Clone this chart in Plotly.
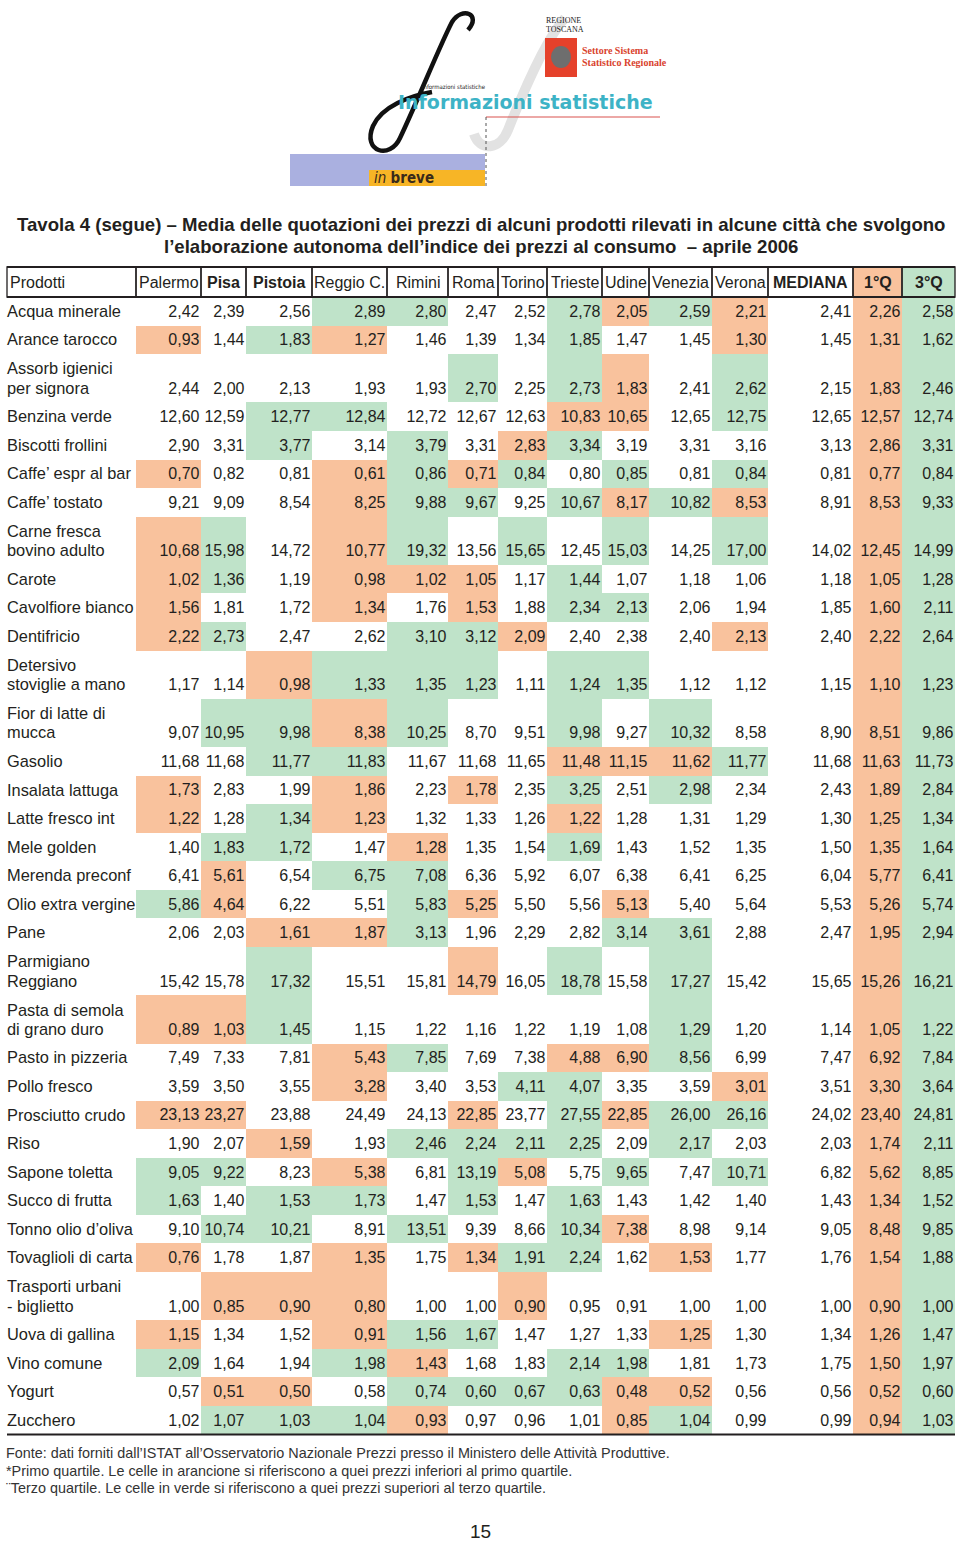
import plotly.graph_objects as go

# ---- data -------------------------------------------------------------
products = [
    "Acqua minerale", "Arance tarocco", "Assorb igienici\nper signora",
    "Benzina verde", "Biscotti frollini", "Caffe’ espr al bar", "Caffe’ tostato",
    "Carne fresca\nbovino adulto", "Carote", "Cavolfiore bianco", "Dentifricio",
    "Detersivo\nstoviglie a mano", "Fior di latte di\nmucca", "Gasolio",
    "Insalata lattuga", "Latte fresco int", "Mele golden", "Merenda preconf",
    "Olio extra vergine", "Pane", "Parmigiano\nReggiano",
    "Pasta di semola\ndi grano duro", "Pasto in pizzeria", "Pollo fresco",
    "Prosciutto crudo", "Riso", "Sapone toletta", "Succo di frutta",
    "Tonno olio d’oliva", "Tovaglioli di carta", "Trasporti urbani\n- biglietto",
    "Uova di gallina", "Vino comune", "Yogurt", "Zucchero",
]

headers = ["Palermo", "Pisa", "Pistoia", "Reggio C.", "Rimini", "Roma", "Torino",
           "Trieste", "Udine", "Venezia", "Verona", "MEDIANA", "1°Q", "3°Q"]
bold_headers = {"Pisa", "Pistoia", "MEDIANA", "1°Q", "3°Q"}

palermo = [2.42, 0.93, 2.44, 12.60, 2.90, 0.70, 9.21, 10.68, 1.02, 1.56, 2.22, 1.17,
           9.07, 11.68, 1.73, 1.22, 1.40, 6.41, 5.86, 2.06, 15.42, 0.89, 7.49, 3.59,
           23.13, 1.90, 9.05, 1.63, 9.10, 0.76, 1.00, 1.15, 2.09, 0.57, 1.02]
pisa = [2.39, 1.44, 2.00, 12.59, 3.31, 0.82, 9.09, 15.98, 1.36, 1.81, 2.73, 1.14,
        10.95, 11.68, 2.83, 1.28, 1.83, 5.61, 4.64, 2.03, 15.78, 1.03, 7.33, 3.50,
        23.27, 2.07, 9.22, 1.40, 10.74, 1.78, 0.85, 1.34, 1.64, 0.51, 1.07]
pistoia = [2.56, 1.83, 2.13, 12.77, 3.77, 0.81, 8.54, 14.72, 1.19, 1.72, 2.47, 0.98,
           9.98, 11.77, 1.99, 1.34, 1.72, 6.54, 6.22, 1.61, 17.32, 1.45, 7.81, 3.55,
           23.88, 1.59, 8.23, 1.53, 10.21, 1.87, 0.90, 1.52, 1.94, 0.50, 1.03]
reggio = [2.89, 1.27, 1.93, 12.84, 3.14, 0.61, 8.25, 10.77, 0.98, 1.34, 2.62, 1.33,
          8.38, 11.83, 1.86, 1.23, 1.47, 6.75, 5.51, 1.87, 15.51, 1.15, 5.43, 3.28,
          24.49, 1.93, 5.38, 1.73, 8.91, 1.35, 0.80, 0.91, 1.98, 0.58, 1.04]
rimini = [2.80, 1.46, 1.93, 12.72, 3.79, 0.86, 9.88, 19.32, 1.02, 1.76, 3.10, 1.35,
          10.25, 11.67, 2.23, 1.32, 1.28, 7.08, 5.83, 3.13, 15.81, 1.22, 7.85, 3.40,
          24.13, 2.46, 6.81, 1.47, 13.51, 1.75, 1.00, 1.56, 1.43, 0.74, 0.93]
roma = [2.47, 1.39, 2.70, 12.67, 3.31, 0.71, 9.67, 13.56, 1.05, 1.53, 3.12, 1.23,
        8.70, 11.68, 1.78, 1.33, 1.35, 6.36, 5.25, 1.96, 14.79, 1.16, 7.69, 3.53,
        22.85, 2.24, 13.19, 1.53, 9.39, 1.34, 1.00, 1.67, 1.68, 0.60, 0.97]
torino = [2.52, 1.34, 2.25, 12.63, 2.83, 0.84, 9.25, 15.65, 1.17, 1.88, 2.09, 1.11,
          9.51, 11.65, 2.35, 1.26, 1.54, 5.92, 5.50, 2.29, 16.05, 1.22, 7.38, 4.11,
          23.77, 2.11, 5.08, 1.47, 8.66, 1.91, 0.90, 1.47, 1.83, 0.67, 0.96]
trieste = [2.78, 1.85, 2.73, 10.83, 3.34, 0.80, 10.67, 12.45, 1.44, 2.34, 2.40, 1.24,
           9.98, 11.48, 3.25, 1.22, 1.69, 6.07, 5.56, 2.82, 18.78, 1.19, 4.88, 4.07,
           27.55, 2.25, 5.75, 1.63, 10.34, 2.24, 0.95, 1.27, 2.14, 0.63, 1.01]
udine = [2.05, 1.47, 1.83, 10.65, 3.19, 0.85, 8.17, 15.03, 1.07, 2.13, 2.38, 1.35,
         9.27, 11.15, 2.51, 1.28, 1.43, 6.38, 5.13, 3.14, 15.58, 1.08, 6.90, 3.35,
         22.85, 2.09, 9.65, 1.43, 7.38, 1.62, 0.91, 1.33, 1.98, 0.48, 0.85]
venezia = [2.59, 1.45, 2.41, 12.65, 3.31, 0.81, 10.82, 14.25, 1.18, 2.06, 2.40, 1.12,
           10.32, 11.62, 2.98, 1.31, 1.52, 6.41, 5.40, 3.61, 17.27, 1.29, 8.56, 3.59,
           26.00, 2.17, 7.47, 1.42, 8.98, 1.53, 1.00, 1.25, 1.81, 0.52, 1.04]
verona = [2.21, 1.30, 2.62, 12.75, 3.16, 0.84, 8.53, 17.00, 1.06, 1.94, 2.13, 1.12,
          8.58, 11.77, 2.34, 1.29, 1.35, 6.25, 5.64, 2.88, 15.42, 1.20, 6.99, 3.01,
          26.16, 2.03, 10.71, 1.40, 9.14, 1.77, 1.00, 1.30, 1.73, 0.56, 0.99]
mediana = [2.41, 1.45, 2.15, 12.65, 3.13, 0.81, 8.91, 14.02, 1.18, 1.85, 2.40, 1.15,
           8.90, 11.68, 2.43, 1.30, 1.50, 6.04, 5.53, 2.47, 15.65, 1.14, 7.47, 3.51,
           24.02, 2.03, 6.82, 1.43, 9.05, 1.76, 1.00, 1.34, 1.75, 0.56, 0.99]
q1 = [2.26, 1.31, 1.83, 12.57, 2.86, 0.77, 8.53, 12.45, 1.05, 1.60, 2.22, 1.10,
      8.51, 11.63, 1.89, 1.25, 1.35, 5.77, 5.26, 1.95, 15.26, 1.05, 6.92, 3.30,
      23.40, 1.74, 5.62, 1.34, 8.48, 1.54, 0.90, 1.26, 1.50, 0.52, 0.94]
q3 = [2.58, 1.62, 2.46, 12.74, 3.31, 0.84, 9.33, 14.99, 1.28, 2.11, 2.64, 1.23,
      9.86, 11.73, 2.84, 1.34, 1.64, 6.41, 5.74, 2.94, 16.21, 1.22, 7.84, 3.64,
      24.81, 2.11, 8.85, 1.52, 9.85, 1.88, 1.00, 1.47, 1.97, 0.60, 1.03]

# city cells: O = below 1st quartile (orange), G = above 3rd quartile (green)
flags = [
    "---GG--GOGO", "O-GO---G--O", "-----G-GO-G", "--GG---OO-G", "--G-G-OG---",
    "O--OGOG-G-G", "---OGG-GOGO", "OG-OG-G-G-G", "OG-OOO-G---", "O--O-O-GG--",
    "OG--GGO---O", "--OGGG-GG--", "-GGOG--G-G-", "--GG---OOOG", "O--O-O-G-G-",
    "O-GO---O---", "-GG-O--G---", "-O-GG------", "GO--GO--O--", "--OOG---GG-",
    "--G--O-G-G-", "OOG------G-", "---OG--OOG-", "---O--GG--O", "OO---O-GOGG",
    "--O-GGGG-G-", "GG-O-GO-G-G", "G-GG-G-G---", "-GG-G--GO--", "O--O-OGG-O-",
    "-OOO--O----", "O--OGG---O-", "G--GO--GG--", "-OO-GGGGOO-", "-GGGO---OG-",
]

columns = [palermo, pisa, pistoia, reggio, rimini, roma, torino, trieste, udine,
           venezia, verona, mediana, q1, q3]

# ---- layout constants ---------------------------------------------------
ORANGE = "#F9C29D"
GREEN = "#BFE3C9"
INK = "#231F20"
FONT = "Arial, Liberation Sans, sans-serif"
W, H = 960, 1542

col_edges = [7, 136, 201, 246, 312, 387, 448, 498, 547, 602, 649, 712, 768, 853, 902, 955]
head_top, head_bot = 267, 297
ROW1, ROW2 = 28.55, 48.3

# row geometry from the number of label lines
row_edges = [head_top, head_bot]
for p in products:
    row_edges.append(row_edges[-1] + (ROW2 if "\n" in p else ROW1))
val_y = [b - 12.8 for b in row_edges[2:]]

code = {"-": 0, "O": 1, "G": 2}
z = [[0] * 12 + [1, 2]]
for f in flags:
    z.append([code[c] for c in f] + [0, 1, 2])


def fmt(v):
    return f"{v:.2f}".replace(".", ",")


fig = go.Figure()

fig.add_trace(go.Heatmap(
    z=z, x=col_edges[1:], y=row_edges,
    zmin=0, zmax=2, showscale=False, hoverinfo="skip",
    colorscale=[[0, "white"], [0.33, "white"], [0.33, ORANGE], [0.67, ORANGE],
                [0.67, GREEN], [1, GREEN]],
))

# product labels
lab_y, lab_t = [], []
for i, p in enumerate(products):
    parts = p.split("\n")
    if len(parts) == 1:
        lab_y.append(val_y[i]); lab_t.append(p)
    else:
        lab_y += [row_edges[i + 1] + 16.3, val_y[i]]
        lab_t += parts
fig.add_trace(go.Scatter(
    x=[7] * len(lab_t), y=lab_y, text=lab_t, mode="text",
    textposition="middle right", hoverinfo="skip",
    textfont=dict(family=FONT, size=16.4, color=INK),
))

# values, right aligned in each column
for j, col in enumerate(columns):
    right = col_edges[j + 2] - 1.5
    fig.add_trace(go.Scatter(
        x=[right] * len(col), y=val_y, text=[fmt(v) for v in col], mode="text",
        textposition="middle left", hoverinfo="skip",
        textfont=dict(family=FONT, size=16, color=INK),
    ))

# header boxes and labels
hdr_y = (head_top + head_bot) / 2
for k in range(len(col_edges) - 1):
    fig.add_shape(type="rect", x0=col_edges[k], x1=col_edges[k + 1],
                  y0=head_top, y1=head_bot, line=dict(color=INK, width=1.3))
fig.add_shape(type="line", x0=7, x1=955, y0=head_top, y1=head_top,
              line=dict(color=INK, width=2))
fig.add_shape(type="line", x0=7, x1=955, y0=head_bot, y1=head_bot,
              line=dict(color=INK, width=2.2))
fig.add_annotation(x=8, y=hdr_y, text="Prodotti", xanchor="left", showarrow=False,
                   font=dict(family=FONT, size=16, color=INK))
for k, h in enumerate(headers):
    fig.add_annotation(
        x=(col_edges[k + 1] + col_edges[k + 2]) / 2, y=hdr_y,
        text=f"<b>{h}</b>" if h in bold_headers else h, showarrow=False,
        font=dict(family=FONT, size=16, color=INK))

# closing rule
fig.add_shape(type="line", x0=7, x1=955, y0=row_edges[-1], y1=row_edges[-1],
              line=dict(color=INK, width=2.2))

# title
fig.add_annotation(
    x=481, y=224, showarrow=False,
    text="<b>Tavola 4 (segue) – Media delle quotazioni dei prezzi di alcuni prodotti "
         "rilevati in alcune città che svolgono</b>",
    font=dict(family=FONT, size=18.6, color=INK))
fig.add_annotation(
    x=481, y=246, showarrow=False,
    text="<b>l’elaborazione autonoma dell’indice dei prezzi al consumo  – aprile 2006</b>",
    font=dict(family=FONT, size=18.6, color=INK))

# footnotes
notes = [
    "Fonte: dati forniti dall’ISTAT all’Osservatorio Nazionale Prezzi presso il "
    "Ministero delle Attività Produttive.",
    "*Primo quartile. Le celle in arancione si riferiscono a quei prezzi inferiori al "
    "primo quartile.",
    "¨Terzo quartile. Le celle in verde si riferiscono a quei prezzi superiori al terzo "
    "quartile.",
]
for i, n in enumerate(notes):
    fig.add_annotation(x=4, y=1453 + 17.5 * i, text=n, xanchor="left", showarrow=False,
                       font=dict(family=FONT, size=14.4, color="#333333"))
fig.add_annotation(x=480, y=1531, text="15", showarrow=False,
                   font=dict(family=FONT, size=19, color=INK))

# ---- masthead (decorative) ---------------------------------------------
fig.add_shape(type="path",
              path="M 565 18 C 545 40 522 95 508 130 C 500 150 480 152 474 134",
              line=dict(color="#E2E2E2", width=10), layer="below")
fig.add_shape(type="rect", x0=290, x1=485, y0=154, y1=186,
              fillcolor="#AAB0E0", line=dict(width=0), layer="below")
fig.add_shape(type="rect", x0=369, x1=485, y0=170, y1=186,
              fillcolor="#F7B526", line=dict(width=0), layer="below")
fig.add_shape(type="path",
              path="M 468 30 C 482 14 462 6 452 22 C 440 45 418 100 400 138 "
                   "C 390 160 362 152 373 126 C 382 106 410 96 432 92",
              line=dict(color="#111111", width=4.5))
fig.add_annotation(x=372, y=178, text="<i>in</i> <b>breve</b>", xanchor="left",
                   showarrow=False,
                   font=dict(family="DejaVu Sans Condensed, sans-serif", size=15,
                             color="#3A2A1A"))
fig.add_annotation(x=525, y=102, text="<b>Informazioni statistiche</b>",
                   showarrow=False,
                   font=dict(family="DejaVu Sans, sans-serif", size=19, color="#3DB3C6"))
fig.add_annotation(x=420, y=86, text="informazioni statistiche", xanchor="left",
                   showarrow=False,
                   font=dict(family="DejaVu Sans Condensed, sans-serif", size=6,
                             color="#222222"))
fig.add_shape(type="line", x0=486, x1=660, y0=117, y1=117,
              line=dict(color="#D9534F", width=1.2))
fig.add_shape(type="line", x0=486, x1=486, y0=117, y1=186,
              line=dict(color="#555555", width=1, dash="dot"))
fig.add_annotation(x=544, y=20, text="REGIONE", xanchor="left", showarrow=False,
                   font=dict(family="Liberation Serif, serif", size=8, color="#222222"))
fig.add_annotation(x=544, y=29, text="TOSCANA", xanchor="left", showarrow=False,
                   font=dict(family="Liberation Serif, serif", size=8, color="#222222"))
fig.add_shape(type="rect", x0=545, x1=577, y0=38, y1=77,
              fillcolor="#E5412B", line=dict(width=0))
fig.add_shape(type="circle", x0=551, x1=571, y0=46, y1=68,
              fillcolor="#6E6E6E", line=dict(width=0))
fig.add_annotation(x=580, y=50, text="<b>Settore Sistema</b>", xanchor="left",
                   showarrow=False,
                   font=dict(family="Liberation Serif, serif", size=10, color="#D9432E"))
fig.add_annotation(x=580, y=62, text="<b>Statistico Regionale</b>", xanchor="left",
                   showarrow=False,
                   font=dict(family="Liberation Serif, serif", size=10, color="#D9432E"))

fig.update_xaxes(range=[0, W], visible=False, fixedrange=True)
fig.update_yaxes(range=[H, 0], visible=False, fixedrange=True)
fig.update_layout(
    width=W, height=H, margin=dict(l=0, r=0, t=0, b=0),
    paper_bgcolor="white", plot_bgcolor="white", showlegend=False,
)

fig.write_html("out.html", config={"displayModeBar": False},
               post_script="document.body.style.margin='0';")
